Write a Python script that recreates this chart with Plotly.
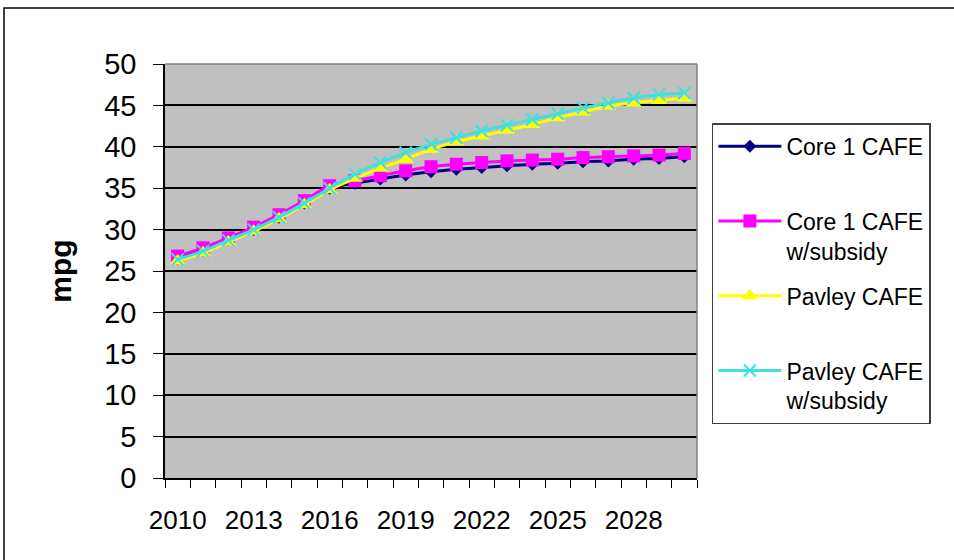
import plotly.graph_objects as go

years = list(range(2010, 2031))

core1_cafe = [26.5, 27.5, 28.8, 30.0, 31.5, 33.2, 35.0, 35.6, 36.1, 36.6, 37.0,
              37.3, 37.5, 37.7, 37.9, 38.0, 38.2, 38.3, 38.5, 38.6, 38.8]
core1_cafe_subsidy = [26.8, 27.8, 29.0, 30.3, 31.8, 33.5, 35.3, 35.9, 36.5, 37.1, 37.6,
                      37.9, 38.1, 38.3, 38.4, 38.5, 38.7, 38.8, 38.9, 39.0, 39.2]
pavley_cafe = [26.2, 27.2, 28.5, 29.8, 31.3, 33.0, 34.8, 36.2, 37.4, 38.5, 39.7,
               40.6, 41.3, 42.0, 42.7, 43.5, 44.2, 44.9, 45.3, 45.6, 45.9]
pavley_cafe_subsidy = [26.4, 27.4, 28.7, 30.0, 31.5, 33.2, 35.0, 36.7, 38.1, 39.3, 40.3,
                       41.1, 41.9, 42.6, 43.3, 44.0, 44.7, 45.3, 45.9, 46.3, 46.5]

x_tick_years = [2010, 2013, 2016, 2019, 2022, 2025, 2028]
y_ticks = list(range(0, 51, 5))

series = [
    ("Core 1 CAFE<br> ", core1_cafe, "#000080", "diamond", 10),
    ("Core 1 CAFE<br>w/subsidy", core1_cafe_subsidy, "#ff00ff", "square", 13),
    ("Pavley CAFE<br> ", pavley_cafe, "#ffff00", "triangle-up", 14),
    ("Pavley CAFE<br>w/subsidy", pavley_cafe_subsidy, "#40e0e0", "x-thin", 12),
]

fig = go.Figure()
for i, (name, vals, color, symbol, size) in enumerate(series):
    marker = dict(symbol=symbol, size=size, color=color)
    if symbol == "x-thin":
        marker["line"] = dict(color=color, width=2)
    fig.add_trace(go.Scatter(
        x=years, y=vals, name=name, mode="lines+markers",
        line=dict(color=color, width=3, shape="spline", smoothing=0.8),
        marker=marker, legendgroup=f"g{i}",
    ))

font_family = "Liberation Sans, Arial, sans-serif"

fig.update_layout(
    width=954, height=560,
    margin=dict(l=165, r=257, t=64, b=82),
    paper_bgcolor="white",
    plot_bgcolor="#c0c0c0",
    font=dict(family=font_family, color="black"),
    showlegend=True,
    legend=dict(
        x=1.028, y=0.857, xanchor="left", yanchor="top",
        bordercolor="#404040", borderwidth=1.5, bgcolor="white",
        font=dict(size=23, family=font_family, color="black"),
        valign="top", tracegroupgap=12, itemwidth=63,
    ),
    xaxis=dict(
        range=[2009.5, 2030.5],
        tickmode="array", tickvals=x_tick_years,
        ticktext=[str(y) for y in x_tick_years],
        ticks="", showgrid=False, zeroline=False,
        showline=True, linecolor="black", linewidth=1.5,
        tickfont=dict(size=26),
        ticklabelstandoff=18,
        minor=dict(tickmode="linear", tick0=2009.5, dtick=1, ticks="outside",
                   ticklen=8, tickcolor="black", tickwidth=1, showgrid=False),
    ),
    yaxis=dict(
        range=[0, 50], tickmode="array", tickvals=y_ticks,
        ticks="outside", ticklen=10, tickcolor="black", tickwidth=1,
        showgrid=True, gridcolor="black", gridwidth=1.5,
        zeroline=False, showline=True, linecolor="black", linewidth=1.5,
        tickfont=dict(size=29),
        ticklabelstandoff=11,
        title=dict(text="<b>mpg</b>", font=dict(size=30), standoff=24),
    ),
    shapes=[
        # grey outline on the top and right of the plotting area
        dict(type="line", xref="paper", yref="paper", x0=0, x1=1, y0=1, y1=1,
             line=dict(color="#808080", width=1.5)),
        dict(type="line", xref="paper", yref="paper", x0=1, x1=1, y0=0, y1=1,
             line=dict(color="#808080", width=1.5)),
        # outer chart frame
        dict(type="rect", xref="paper", yref="paper",
             x0=-0.3026, x1=1.5, y0=-0.25, y1=1.1353,
             line=dict(color="black", width=1.5), layer="below"),
    ],
)

fig.write_html("out.html")
